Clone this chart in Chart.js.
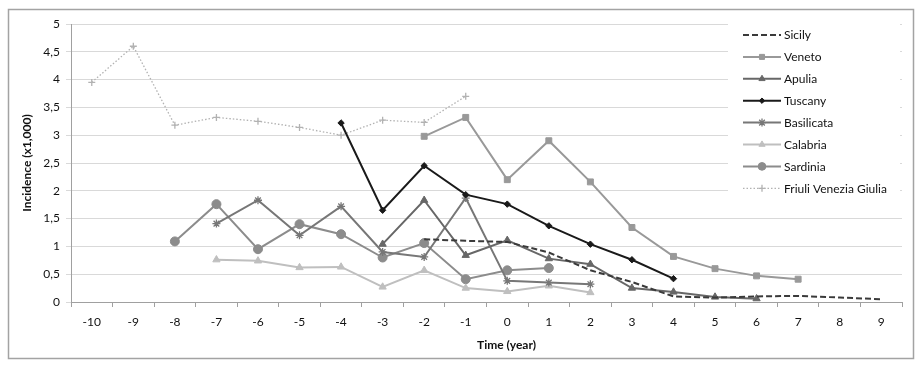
<!DOCTYPE html>
<html>
<head>
<meta charset="utf-8">
<script src="https://cdn.jsdelivr.net/npm/chart.js@4/dist/chart.umd.min.js"></script>
<style>
  html, body { margin: 0; padding: 0; background: #fff; }
  #wrap { width: 924px; height: 372px; position: relative; }
</style>
</head>
<body>
<div id="wrap"><canvas id="c" width="924" height="372"></canvas></div>
<script>
// ---- data ----
const categories = ['-10','-9','-8','-7','-6','-5','-4','-3','-2','-1','0','1','2','3','4','5','6','7','8','9'];
const yTickLabels = ['0','0,5','1','1,5','2','2,5','3','3,5','4','4,5','5'];

const sicily     = [null,null,null,null,null,null,null,null,1.13,1.10,1.08,0.89,0.57,0.36,0.10,0.08,0.10,0.11,0.08,0.05];
const veneto     = [null,null,null,null,null,null,null,null,2.98,3.32,2.20,2.90,2.16,1.34,0.82,0.60,0.47,0.41,null,null];
const apulia     = [null,null,null,null,null,null,null,1.04,1.83,0.84,1.11,0.78,0.68,0.25,0.18,0.09,0.06,null,null,null];
const tuscany    = [null,null,null,null,null,null,3.22,1.65,2.45,1.93,1.76,1.37,1.04,0.76,0.42,null,null,null,null,null];
const basilicata = [null,null,null,1.41,1.83,1.20,1.72,0.90,0.81,1.87,0.38,0.35,0.32,null,null,null,null,null,null,null];
const calabria   = [null,null,null,0.76,0.74,0.62,0.63,0.27,0.57,0.25,0.19,0.29,0.17,null,null,null,null,null,null,null];
const sardinia   = [null,null,1.09,1.76,0.95,1.40,1.22,0.80,1.06,0.41,0.57,0.61,null,null,null,null,null,null,null,null];
const friuli     = [3.95,4.60,3.18,3.32,3.25,3.14,3.00,3.27,3.23,3.70,null,null,null,null,null,null,null,null,null,null];

const FONT = 'Lato, "Liberation Sans", sans-serif';
const TEXT = '#111111';

function ds(label, data, color, style, radius, dash, width) {
  return {
    label: label, data: data,
    borderColor: color, backgroundColor: color,
    pointBackgroundColor: color, pointBorderColor: color,
    pointStyle: style, pointRadius: radius, pointHoverRadius: radius,
    pointBorderWidth: (style === 'star' || style === 'cross') ? 1.3 : 1,
    borderWidth: width || 2, borderDash: dash || [],
    spanGaps: false, tension: 0, fill: false
  };
}

const datasets = [
  ds('Sicily', sicily, '#3a3a3a', 'circle', 0, [6,3], 2),
  ds('Veneto', veneto, '#999999', 'rect', 4.2, [], 2),
  ds('Apulia', apulia, '#676767', 'triangle', 4.2, [], 2),
  ds('Tuscany', tuscany, '#1a1a1a', 'rectRot', 3.2, [], 2),
  ds('Basilicata', basilicata, '#777777', 'star', 4, [], 2),
  ds('Calabria', calabria, '#bfbfbf', 'triangle', 4.2, [], 2),
  ds('Sardinia', sardinia, '#8c8c8c', 'circle', 4.5, [], 2),
  ds('Friuli Venezia Giulia', friuli, '#b2b2b2', 'cross', 3.5, [1.5,2], 1.3)
];

const framePlugin = {
  id: 'frame',
  beforeDraw(chart) {
    const ctx = chart.ctx;
    ctx.save();
    ctx.fillStyle = '#fff';
    ctx.fillRect(0, 0, chart.width, chart.height);
    ctx.strokeStyle = '#a3a3a3';
    ctx.lineWidth = 1.5;
    ctx.strokeRect(8.5, 9.5, 905, 349);
    ctx.restore();
  },
  afterDraw(chart) {
    const ctx = chart.ctx;
    const area = chart.chartArea;
    ctx.save();
    // x axis title
    ctx.fillStyle = TEXT;
    ctx.font = 'bold 12px ' + FONT;
    ctx.textAlign = 'center';
    ctx.textBaseline = 'middle';
    ctx.fillText('Time (year)', (area.left + area.right) / 2 + 20, 345);

    // legend inside chart area
    ctx.fillStyle = '#fff';
    ctx.fillRect(728, 16, 172, 188);
    const x0 = 743, x1 = 781, y0 = 35, step = 21.9;
    chart.data.datasets.forEach((d, i) => {
      const y = y0 + i * step;
      ctx.save();
      ctx.strokeStyle = d.borderColor;
      ctx.lineWidth = d.borderWidth;
      ctx.setLineDash(d.borderDash);
      ctx.beginPath();
      ctx.moveTo(x0, y);
      ctx.lineTo(x1, y);
      ctx.stroke();
      ctx.setLineDash([]);
      if (d.pointRadius > 0) {
        ctx.fillStyle = d.pointBackgroundColor;
        ctx.strokeStyle = d.pointBorderColor;
        ctx.lineWidth = d.pointBorderWidth;
        const r = (d.pointStyle === 'star' || d.pointStyle === 'cross') ? d.pointRadius : d.pointRadius * 0.85;
        Chart.helpers.drawPoint(ctx, {pointStyle: d.pointStyle, radius: r, rotation: 0, borderWidth: d.pointBorderWidth}, (x0 + x1) / 2, y);
      }
      ctx.restore();
      ctx.fillStyle = TEXT;
      ctx.font = '12px ' + FONT;
      ctx.textAlign = 'left';
      ctx.textBaseline = 'middle';
      ctx.fillText(d.label, x1 + 3, y + 0.5);
    });
    ctx.restore();
  }
};

new Chart(document.getElementById('c'), {
  type: 'line',
  data: { labels: categories, datasets: datasets },
  plugins: [framePlugin],
  options: {
    responsive: false,
    animation: false,
    events: [],
    layout: { padding: { top: 24, right: 22, left: 0, bottom: 0 } },
    plugins: { legend: { display: false }, tooltip: { enabled: false } },
    scales: {
      x: {
        type: 'category',
        offset: true,
        afterFit(s) { s.height = 70; },
        grid: { display: true, drawOnChartArea: false, drawTicks: true, tickLength: 5, offset: true, color: '#a0a0a0' },
        border: { display: true, color: '#a0a0a0', width: 1 },
        ticks: { color: TEXT, font: { family: FONT, size: 12 }, padding: 8, maxRotation: 0, autoSkip: false }
      },
      y: {
        min: 0, max: 5,
        afterFit(s) { s.width = 71; },
        afterBuildTicks(s) { s.ticks = yTickLabels.map((t, i) => ({ value: i * 0.5 })); },
        grid: { color: '#d9d9d9', lineWidth: 1, tickLength: 5, drawTicks: true },
        border: { display: true, color: '#a0a0a0', width: 1 },
        ticks: {
          color: TEXT, font: { family: FONT, size: 12 }, padding: 6,
          callback: (v, i) => yTickLabels[i]
        },
        title: { display: true, text: 'Incidence (x1,000)', color: TEXT, font: { family: FONT, size: 12, weight: 'bold' }, padding: { top: 20, bottom: 0 } }
      }
    }
  }
});
</script>
</body>
</html>
